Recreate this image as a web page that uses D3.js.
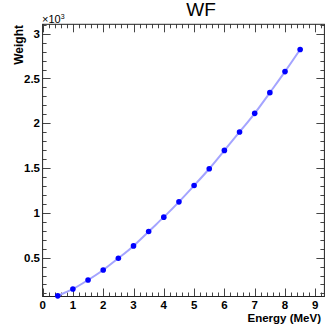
<!DOCTYPE html>
<html>
<head>
<script src="https://d3js.org/d3.v7.min.js"></script>
<style>
  body { margin: 0; background: white; }
  text { font-family: "Liberation Sans", Arial, sans-serif; }
  .tick-label { font-weight: bold; font-size: 11.5px; }
  .axis-title { font-weight: bold; font-size: 11.5px; }
</style>
</head>
<body>
<svg id="chart" width="328" height="328"></svg>
<script>
// energy points (MeV) and weights
const energy = [0.5, 1, 1.5, 2, 2.5, 3, 3.5, 4, 4.5, 5, 5.5, 6, 6.5, 7, 7.5, 8, 8.5];
const weight = [73, 150, 250, 362, 493, 631, 791, 952, 1123, 1305, 1492, 1697, 1903, 2111, 2342, 2577, 2823];
const xTicks = [0, 1, 2, 3, 4, 5, 6, 7, 8, 9];
const yTicks = [500, 1000, 1500, 2000, 2500, 3000];
const yTickLabels = ["0.5", "1", "1.5", "2", "2.5", "3"];

const svg = d3.select("#chart");
const frame = { left: 42.6, right: 324.4, top: 24.3, bottom: 296.5 };

const x = d3.scaleLinear().domain([0, 9.3]).range([frame.left, frame.right]);
const y = d3.scaleLinear().domain([66, 3105]).range([frame.bottom, frame.top]);

// title
svg.append("text")
    .attr("x", 201).attr("y", 16)
    .attr("text-anchor", "middle")
    .style("font-size", "19px")
    .text("WF");

// ticks (inside the frame, on all four sides)
const g = svg.append("g").attr("stroke", "#444").attr("stroke-width", 1);

const xMinor = d3.range(0, 9.3 + 1e-9, 0.2);
xMinor.forEach(v => {
    const major = Math.abs(v - Math.round(v)) < 1e-6;
    const len = major ? 8 : 4;
    const px = Math.round(x(v)) + 0.5;
    g.append("line").attr("x1", px).attr("x2", px).attr("y1", frame.bottom).attr("y2", frame.bottom - len);
    g.append("line").attr("x1", px).attr("x2", px).attr("y1", frame.top).attr("y2", frame.top + len);
});

const yMinor = d3.range(100, 3105, 100);
yMinor.forEach(v => {
    const major = v % 500 === 0;
    const len = major ? 8 : 4;
    const py = Math.round(y(v)) + 0.5;
    g.append("line").attr("x1", frame.left).attr("x2", frame.left + len).attr("y1", py).attr("y2", py);
    g.append("line").attr("x1", frame.right).attr("x2", frame.right - len).attr("y1", py).attr("y2", py);
});

// frame
svg.append("rect")
    .attr("x", frame.left).attr("y", frame.top)
    .attr("width", frame.right - frame.left).attr("height", frame.bottom - frame.top)
    .attr("fill", "none").attr("stroke", "#222").attr("stroke-width", 1);

// tick labels
svg.selectAll("text.xl").data(xTicks)
    .join("text")
    .attr("class", "tick-label")
    .attr("x", d => x(d)).attr("y", 308.5)
    .attr("text-anchor", "middle")
    .text(d => d);

svg.selectAll("text.yl").data(yTicks)
    .join("text")
    .attr("class", "tick-label")
    .attr("x", 40).attr("y", d => y(d) + 4.2)
    .attr("text-anchor", "end")
    .text((d, i) => yTickLabels[i]);

// exponent
const ex = svg.append("text").attr("x", 42).attr("y", 23).style("font-size", "11px");
ex.append("tspan").text("\u00d710");
ex.append("tspan").attr("dy", -4).style("font-size", "7px").text("3");

// axis titles
svg.append("text")
    .attr("class", "axis-title")
    .attr("x", 321).attr("y", 321.5)
    .attr("text-anchor", "end")
    .text("Energy (MeV)");

svg.append("text")
    .attr("class", "axis-title")
    .style("font-size", "12px")
    .attr("transform", "translate(23,25) rotate(-90)")
    .attr("text-anchor", "end")
    .text("Weight");

// smooth curve
const pts = energy.map((e, i) => [e, weight[i]]);
svg.append("path")
    .datum(pts)
    .attr("fill", "none")
    .attr("stroke", "#a4a4ff")
    .attr("stroke-width", 2)
    .attr("d", d3.line().x(d => x(d[0])).y(d => y(d[1])).curve(d3.curveNatural));

svg.selectAll("circle").data(pts)
    .join("circle")
    .attr("cx", d => x(d[0])).attr("cy", d => y(d[1]))
    .attr("r", 2.8)
    .attr("fill", "#0000ff");
</script>
</body>
</html>
